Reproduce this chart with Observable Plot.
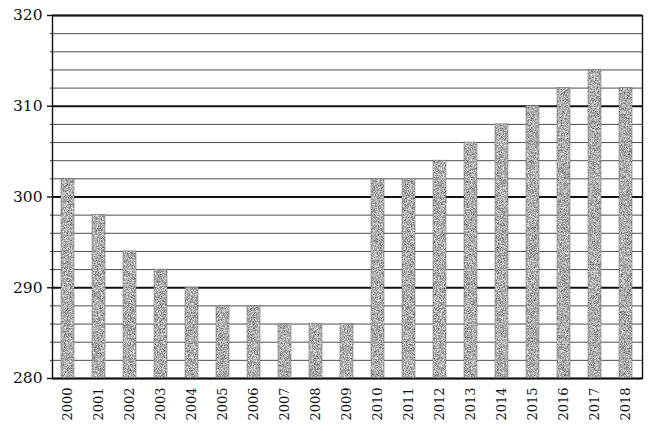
<!DOCTYPE html>
<html><head><meta charset="utf-8">
<script src="https://cdn.jsdelivr.net/npm/d3@7"></script>
<script src="https://cdn.jsdelivr.net/npm/@observablehq/plot@0.6"></script>
<style>body{margin:0;background:#fff}</style>
</head><body><div id="chart"></div>
<script>
const years = ["2000","2001","2002","2003","2004","2005","2006","2007","2008","2009","2010","2011","2012","2013","2014","2015","2016","2017","2018"];
const values = [302,298,294,292,290,288,288,286,286,286,302,302,304,306,308,310,312,314,312];
const majorTicks = [280,290,300,310,320];
const minorTicks = [282,284,286,288,292,294,296,298,302,304,306,308,312,314,316,318];
const data = years.map((year, i) => ({year, value: values[i]}));

const chart = Plot.plot({
  width: 653, height: 431,
  marginTop: 15, marginBottom: 53, marginLeft: 52, marginRight: 11,
  style: {fontFamily: "'DejaVu Serif', serif", background: "#fff", color: "#111"},
  x: {domain: years, paddingInner: 0.57, paddingOuter: 0.285, label: null},
  y: {domain: [280, 320], label: null},
  marks: [
    Plot.ruleY(minorTicks, {stroke: "#3a3a3a", strokeWidth: 0.9}),
    Plot.ruleY(majorTicks, {stroke: "#111", strokeWidth: 1.8}),
    Plot.barY(data, {x: "year", y1: 280, y2: "value", fill: "#999"}),
    Plot.barY(data, {x: "year", y1: 280, y2: "value", fill: "none", stroke: "#777", strokeWidth: 0.6}),
    Plot.axisY(minorTicks, {tickSize: 2, tickFormat: () => "", label: null, stroke: "#333"}),
    Plot.axisY(majorTicks, {tickSize: 5, tickPadding: 5, fontSize: 15.5, label: null, strokeWidth: 1.4}),
    Plot.axisX({tickRotate: -90, tickSize: 0, tickPadding: 9, fontSize: 13, label: null}),
    Plot.frame({stroke: "#111", strokeWidth: 1.4})
  ]
});

const svg = d3.select(chart);
const defs = svg.insert("defs", ":first-child");
const f = defs.append("filter").attr("id", "grain")
  .attr("x", "-5%").attr("y", "-5%").attr("width", "110%").attr("height", "110%")
  .attr("color-interpolation-filters", "sRGB");
f.append("feTurbulence").attr("type", "fractalNoise").attr("baseFrequency", 1.3)
  .attr("numOctaves", 2).attr("seed", 7).attr("result", "n");
f.append("feColorMatrix").attr("in", "n").attr("type", "matrix")
  .attr("values", "1.1 0 0 0 0.13  1.1 0 0 0 0.13  1.1 0 0 0 0.13  0 0 0 0 1").attr("result", "g");
f.append("feComposite").attr("in", "g").attr("in2", "SourceGraphic").attr("operator", "in");
const bars = svg.selectAll("g[aria-label='bar']").nodes();
if (bars.length) d3.select(bars[0]).attr("filter", "url(#grain)");

document.getElementById("chart").appendChild(chart);
</script>
</body></html>
